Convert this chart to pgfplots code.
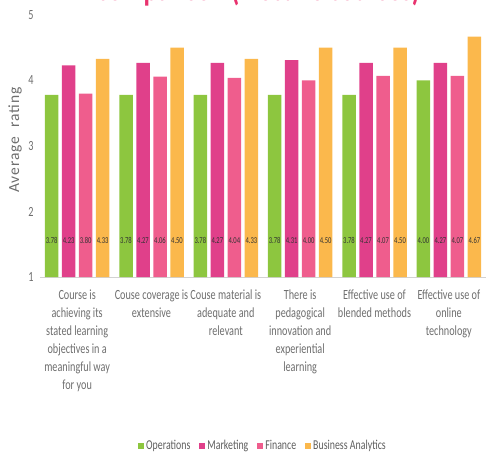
\documentclass[border=0pt]{standalone}
\usepackage{pgfplots}
\pgfplotsset{compat=1.18}
\usepackage{fontspec}
\setmainfont{Carlito}[FakeStretch=0.73]
\newfontfamily\ylfont{Carlito}[LetterSpace=6]
\definecolor{cOps}{HTML}{8DC63F}
\definecolor{cMkt}{HTML}{E0408A}
\definecolor{cFin}{HTML}{EF5D8D}
\definecolor{cBA}{HTML}{FBB84C}
\definecolor{txt}{HTML}{6E6E6E}
\definecolor{ttl}{HTML}{E8326E}
\begin{document}
\begin{tikzpicture}
\begin{axis}[
  at={(0pt,0pt)}, anchor=south west,
  scale only axis, width=446pt, height=262pt,
  ybar=3.5pt, bar width=13.5pt,
  xmin=-0.5, xmax=5.5, ymin=1, ymax=5,
  xtick={0,1,2,3,4,5},
  xticklabels={{Course is\\achieving its\\stated learning\\objectives in a\\meaningful way\\for you},
    {Couse coverage is\\extensive},
    {Couse material is\\adequate and\\relevant},
    {There is\\pedagogical\\innovation and\\experiential\\learning},
    {Effective use of\\blended methods},
    {Effective use of\\online\\technology}},
  ytick={1,2,3,4,5},
  major tick length=0pt,
  axis x line*=bottom, axis y line*=left,
  x axis line style={draw=gray!35, line width=0.8pt, -},
  y axis line style={draw=none},
  /pgf/number format/assume math mode=true,
  yticklabel style={font=\fontsize{14}{14}\selectfont, text=txt, xshift=-3pt},
  xticklabel style={font=\fontsize{14}{18}\selectfont, text=txt, align=center, anchor=north, yshift=-9pt},
  ylabel={Average\ \ rating},
  every axis y label/.style={at={(axis description cs:0,0.5)}, rotate=90, anchor=center, yshift=25pt, xshift=6pt, font=\ylfont\fontsize{15.5}{15.5}\selectfont, text=txt},
  title={comparison (Elective courses)},
  title style={font=\fontsize{36}{36}\bfseries\selectfont, text=ttl, at={(axis description cs:0.49,1)}, anchor=base, yshift=8pt, inner sep=0pt},
  legend style={at={(axis description cs:0.5,-0.645)}, anchor=center, draw=none, fill=none,
    font=\fontsize{13.5}{13.5}\selectfont, text=txt!85!black, legend columns=-1,
    /tikz/every even column/.append style={column sep=7pt}},
  legend image code/.code={\fill[#1] (0pt,-3pt) rectangle (6pt,3pt);},
  visualization depends on=rawy\as\rawy,
  nodes near coords={\pgfmathprintnumber[fixed,fixed zerofill,precision=2]{\pgfplotspointmeta}},
  every node near coord/.append style={font=\fontsize{9}{9}\selectfont, text=black!80, anchor=center, shift={(axis direction cs:0,{1.56-\rawy})}},
]
\addplot[fill=cOps, draw=none] coordinates {(0,3.78) (1,3.78) (2,3.78) (3,3.78) (4,3.78) (5,4.00)};
\addplot[fill=cMkt, draw=none] coordinates {(0,4.23) (1,4.27) (2,4.27) (3,4.31) (4,4.27) (5,4.27)};
\addplot[fill=cFin, draw=none] coordinates {(0,3.80) (1,4.06) (2,4.04) (3,4.00) (4,4.07) (5,4.07)};
\addplot[fill=cBA, draw=none] coordinates {(0,4.33) (1,4.50) (2,4.33) (3,4.50) (4,4.50) (5,4.67)};
\legend{Operations, Marketing, Finance, Business Analytics}
\end{axis}
\pgfresetboundingbox
\useasboundingbox (-40pt,-188pt) rectangle (446pt,277pt);
\end{tikzpicture}
\end{document}
